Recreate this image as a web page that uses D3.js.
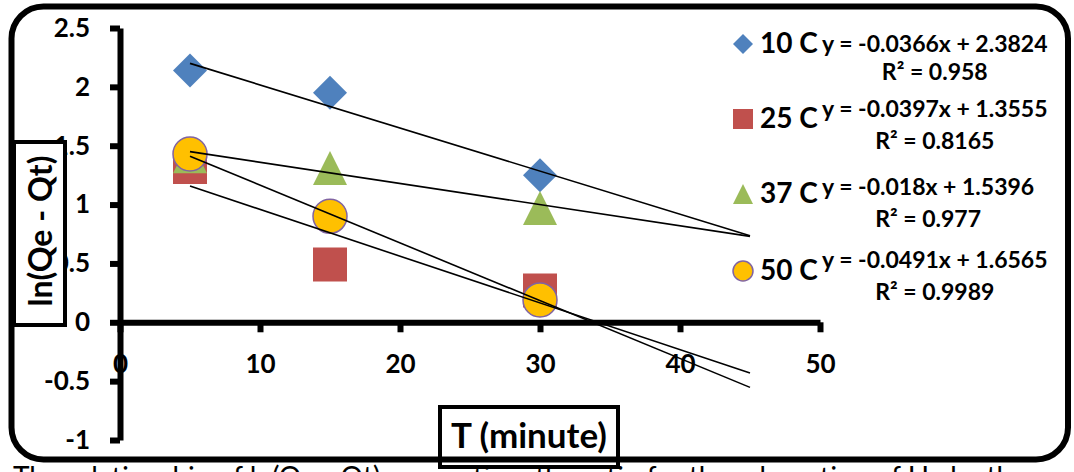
<!DOCTYPE html>
<html>
<head>
<meta charset="utf-8">
<script src="https://cdn.jsdelivr.net/npm/d3@7"></script>
<style>
  body { margin: 0; background: #fff; overflow: hidden; }
  svg text { font-family: Lato, "Open Sans", sans-serif; font-weight: bold; fill: #000; }
  svg text.pie { font-weight: normal; }
</style>
</head>
<body>
<div id="vis"></div>
<script>
const SVG = d3.select("#vis").append("svg");
const WIDTH = 1074;
const HEIGHT = 472;
SVG.attr("width", WIDTH).attr("height", HEIGHT);

// datos
const TIEMPOS = [5, 15, 30];
const SERIES = ["10 C", "25 C", "37 C", "50 C"];
const VALORES_10C = [2.14, 1.95, 1.25];
const VALORES_25C = [1.32, 0.49, 0.27];
const VALORES_37C = [1.41, 1.31, 0.97];
const VALORES_50C = [1.43, 0.90, 0.19];
const PENDIENTES = [-0.0366, -0.0397, -0.018, -0.0491];
const INTERCEPTOS = [2.3824, 1.3555, 1.5396, 1.6565];
const R2 = ["0.958", "0.8165", "0.977", "0.9989"];
const TENDENCIA_X = [5, 45];
const TICKS_X = [0, 10, 20, 30, 40, 50];
const TICKS_Y = [-1, -0.5, 0, 0.5, 1, 1.5, 2, 2.5];

const COLORES = ["#4f81bd", "#c0504d", "#9bbb59", "#ffc000"];
const VALORES = [VALORES_10C, VALORES_25C, VALORES_37C, VALORES_50C];

const escalaX = d3.scaleLinear().domain([0, 50]).range([120, 820]);
const escalaY = d3.scaleLinear().domain([-1, 2.5]).range([440, 28]);

// triangulo isosceles (ancho = alto)
const trianguloExcel = {
  draw(ctx, size) {
    const r = Math.sqrt(size) / 2;
    ctx.moveTo(0, -r);
    ctx.lineTo(r, r);
    ctx.lineTo(-r, r);
    ctx.closePath();
  }
};
const rombo = {
  draw(ctx, size) {
    const r = Math.sqrt(size) / 2;
    ctx.moveTo(0, -r);
    ctx.lineTo(r, 0);
    ctx.lineTo(0, r);
    ctx.lineTo(-r, 0);
    ctx.closePath();
  }
};
const FORMAS = [rombo, d3.symbolSquare, trianguloExcel, d3.symbolCircle];

function marcador(sel, i, lado) {
  if (i === 3) {
    sel.append("circle")
      .attr("r", lado / 2)
      .attr("fill", COLORES[i])
      .attr("stroke", "#8064a2")
      .attr("stroke-width", 1.5);
  } else {
    sel.append("path")
      .attr("d", d3.symbol().type(FORMAS[i]).size(lado * lado)())
      .attr("fill", COLORES[i]);
  }
}

// ejes
const ejeX = d3.axisBottom(escalaX).tickValues(TICKS_X).tickSize(10).tickSizeOuter(0).tickPadding(22);
const ejeY = d3.axisLeft(escalaY).tickValues(TICKS_Y).tickSize(10).tickSizeOuter(0).tickPadding(20)
  .tickFormat(d => d);

const gX = SVG.append("g")
  .attr("transform", `translate(0, ${escalaY(0)})`)
  .call(ejeX);
const gY = SVG.append("g")
  .attr("transform", `translate(${escalaX(0)}, 0)`)
  .call(ejeY);

[gX, gY].forEach(g => {
  g.select(".domain").attr("stroke", "#000").attr("stroke-width", 6);
  g.selectAll(".tick line").attr("stroke", "#000").attr("stroke-width", 6);
  g.selectAll(".tick text").attr("font-size", 26).attr("font-family", "Lato").attr("font-weight", "bold").attr("fill", "#000");
});
// el eje Y se dibuja encima del "0" del eje X
gY.raise();

// puntos
VALORES.forEach((vals, i) => {
  SVG.append("g").selectAll("g")
    .data(vals.map((v, j) => ({ x: TIEMPOS[j], y: v })))
    .join("g")
    .attr("transform", d => `translate(${escalaX(d.x)}, ${escalaY(d.y)})`)
    .each(function () { marcador(d3.select(this), i, 34); });
});

// lineas de tendencia
SVG.append("g").selectAll("line")
  .data(SERIES.map((s, i) => ({ m: PENDIENTES[i], b: INTERCEPTOS[i] })))
  .join("line")
  .attr("x1", escalaX(TENDENCIA_X[0]))
  .attr("y1", d => escalaY(d.m * TENDENCIA_X[0] + d.b))
  .attr("x2", escalaX(TENDENCIA_X[1]))
  .attr("y2", d => escalaY(d.m * TENDENCIA_X[1] + d.b))
  .attr("stroke", "#000")
  .attr("stroke-width", 1.6);

// leyenda + ecuaciones
const Y_LEYENDA = [53, 128, 203, 280];
const Y_ECUACION = [52, 117, 195, 268];
SERIES.forEach((s, i) => {
  const g = SVG.append("g");
  const m = g.append("g").attr("transform", `translate(743, ${Y_LEYENDA[i] - 9})`);
  marcador(m, i, 20);
  g.append("text")
    .attr("x", 760)
    .attr("y", Y_LEYENDA[i])
    .attr("font-size", 28)
    .text(s);
  const eq = g.append("text")
    .attr("x", 822)
    .attr("y", Y_ECUACION[i])
    .attr("font-size", 23)
    .text(`y = ${PENDIENTES[i]}x + ${INTERCEPTOS[i]}`);
  const w = eq.node().getComputedTextLength();
  g.append("text")
    .attr("x", 822 + w / 2)
    .attr("y", Y_ECUACION[i] + (i === 0 ? 28 : 32))
    .attr("text-anchor", "middle")
    .attr("font-size", 23)
    .text(`R² = ${R2[i]}`);
});

// titulo eje Y
SVG.append("rect")
  .attr("x", 14).attr("y", 142).attr("width", 51).attr("height", 183)
  .attr("fill", "#fff").attr("stroke", "#000").attr("stroke-width", 4);
SVG.append("text")
  .attr("transform", "translate(52, 231) rotate(-90)")
  .attr("text-anchor", "middle")
  .attr("font-size", 32)
  .text("ln(Qe - Qt)");

// titulo eje X
SVG.append("rect")
  .attr("x", 440).attr("y", 407).attr("width", 178).attr("height", 60)
  .attr("fill", "#fff").attr("stroke", "#000").attr("stroke-width", 4);
SVG.append("text")
  .attr("x", 529).attr("y", 448)
  .attr("text-anchor", "middle")
  .attr("font-size", 35)
  .text("T (minute)");

// texto de la figura, cortado abajo como en el original
SVG.append("text")
  .attr("class", "pie")
  .attr("x", 13).attr("y", 487)
  .attr("font-size", 28)
  .text("The relationship of ln(Qe - Qt) versus time the ratio for the adsorption of Hg by the surface of");

// marco
SVG.append("rect")
  .attr("x", 11.5).attr("y", 6.5).attr("width", 1056.5).attr("height", 453)
  .attr("rx", 32).attr("ry", 32)
  .attr("fill", "none").attr("stroke", "#000").attr("stroke-width", 6);
</script>
</body>
</html>
